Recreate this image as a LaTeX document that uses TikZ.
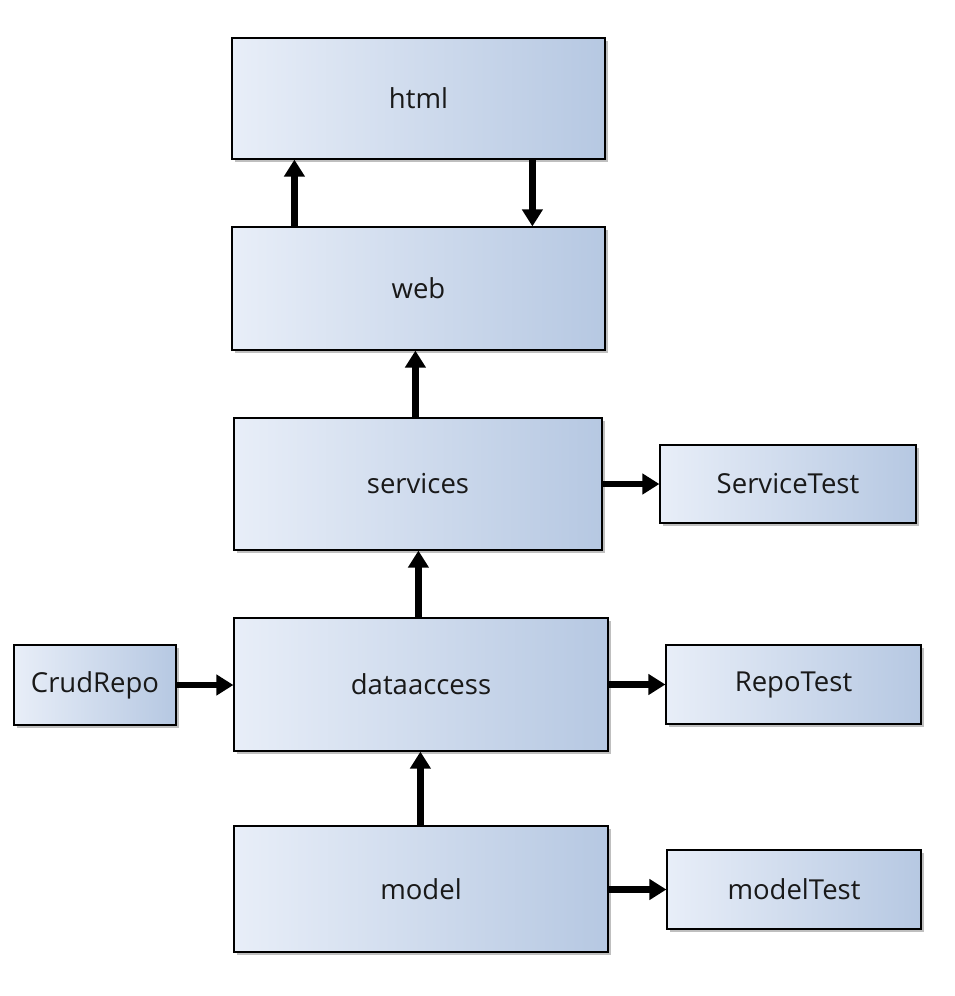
\documentclass[tikz,border=0pt]{standalone}
\usepackage{fontspec}
\setmainfont{Open Sans}
\usetikzlibrary{arrows.meta,shadows}
\definecolor{boxL}{HTML}{E8EEF8}
\definecolor{boxR}{HTML}{B6C8E2}
\begin{document}
\begin{tikzpicture}[x=1pt,y=-1pt,
  box/.style={draw=black, line width=1.2pt, left color=boxL, right color=boxR,
    drop shadow={shadow xshift=2.5pt, shadow yshift=-2.5pt, opacity=0.25, fill=black},
    inner sep=0pt, text=black!90, font=\fontsize{27.5}{32}\selectfont},
  arr/.style={line width=6.5pt, -{Triangle[length=17pt,width=20pt]}}]
\useasboundingbox (0,0) rectangle (954,996);
\newcommand\mkbox[6]{\node[box, minimum width={#4-#2}, minimum height={#5-#3}] (#1) at ({(#2+#4)/2},{(#3+#5)/2}) {#6};}
\mkbox{html}{232}{38}{605}{159}{html}
\mkbox{web}{232}{227}{605}{350}{web}
\mkbox{services}{234}{418}{602}{550}{services}
\mkbox{servicetest}{660}{445}{916}{523}{ServiceTest}
\mkbox{dataaccess}{234}{618}{608}{751}{dataaccess}
\mkbox{crudrepo}{14}{645}{176}{725}{CrudRepo}
\mkbox{repotest}{666}{645}{921}{724}{RepoTest}
\mkbox{model}{234}{826}{608}{952}{model}
\mkbox{modeltest}{667}{850}{921}{929}{modelTest}
% vertical connectors
\draw[arr] ([xshift=63pt]web.north west) -- ([xshift=63pt]html.south west);
\draw[arr] ([xshift=301pt]html.south west) -- ([xshift=301pt]web.north west);
\draw[arr] ([xshift=182pt]services.north west) -- ([xshift=184pt]web.south west);
\draw[arr] ([xshift=185pt]dataaccess.north west) -- ([xshift=185pt]services.south west);
\draw[arr] ([xshift=187pt]model.north west) -- ([xshift=187pt]dataaccess.south west);
% horizontal connectors
\draw[arr] (services.east |- servicetest.west) -- (servicetest.west);
\draw[arr] (crudrepo.east) -- (dataaccess.west |- crudrepo.east);
\draw[arr] (dataaccess.east |- repotest.west) -- (repotest.west);
\draw[arr] (model.east |- modeltest.west) -- (modeltest.west);
\end{tikzpicture}
\end{document}
